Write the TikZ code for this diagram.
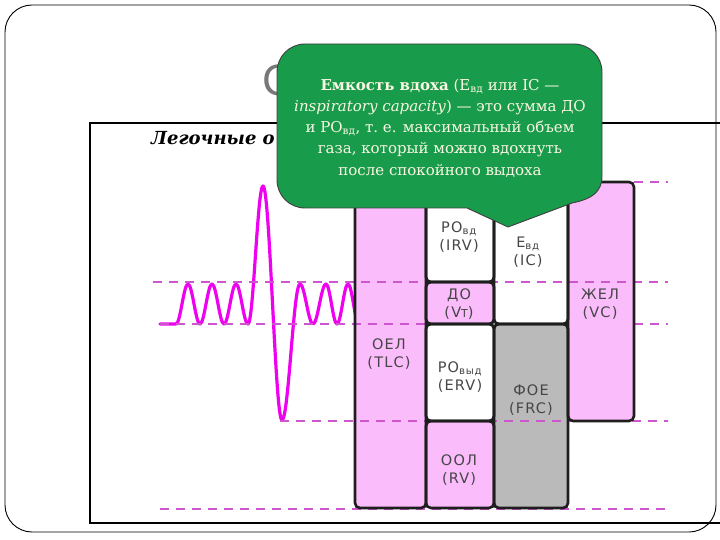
\documentclass[tikz,border=0pt]{standalone}
\usepackage{fontspec}
\setmainfont{DejaVu Serif}
\newfontfamily\lblfont[LetterSpace=8]{DejaVu Sans}
\newfontfamily\callfont{DejaVu Serif}
\newfontfamily\headfont{DejaVu Serif}
\newfontfamily\titlefont{Liberation Sans}
\definecolor{calloutgreen}{RGB}{24,155,74}
\definecolor{callouttext}{RGB}{250,248,228}
\definecolor{pinkfill}{RGB}{250,188,250}
\definecolor{grayfill}{RGB}{186,186,186}
\definecolor{wave}{RGB}{240,0,240}
\definecolor{dashcol}{RGB}{205,85,205}
\definecolor{boxline}{RGB}{30,30,30}
\definecolor{labelgray}{RGB}{70,70,70}
\definecolor{titlegray}{RGB}{120,120,120}
\begin{document}
\begin{tikzpicture}[x=1pt,y=-1pt,
  boxfill/.style={rectangle, inner sep=0pt, outer sep=0pt, anchor=north west, draw=none},
  boxborder/.style={draw=boxline, line width=2.6pt, rounded corners=5pt},
  level/.style={draw=dashcol, line width=1.4pt, dash pattern=on 9pt off 7pt},
  lbl/.style={font=\lblfont\fontsize{14.5}{18}\selectfont, text=labelgray, align=center, inner sep=0pt},
  wavepath/.style={draw=wave, line width=3.2pt, line join=round, line cap=round}]
\useasboundingbox (0,0) rectangle (720,540);
\clip (0,0) rectangle (720,540);
\fill[white] (0,0) rectangle (720,540);

% slide frame and picture frame
\draw[line width=0.9pt, rounded corners=27pt] (5,5) rectangle (716,532);
\draw[line width=1.1pt] (90,123) rectangle (740,523);

% title letter and heading
\node[font=\titlefont\fontsize{44}{44}\selectfont, text=titlegray, anchor=west, inner sep=0pt] (title) at (262,80) {С};
\node[font=\headfont\bfseries\itshape\fontsize{18}{18}\selectfont, anchor=base west, inner sep=0pt] (heading) at (151,145) {Легочные о};

% spirogram
\draw[wavepath] (160,324) -- (176,324)
  cos (182,304) sin (188,284) cos (194,304) sin (200,324)
  cos (206,304) sin (212,284) cos (218,304) sin (224,324)
  cos (230,304) sin (236,284) cos (242,304) sin (248,324)
  cos (255.5,254.5) sin (263,186) cos (272.5,303) sin (282,420)
  cos (291,352) sin (300,284)
  cos (306.5,304) sin (313,324) cos (319.5,304) sin (326,284)
  cos (331.5,304) sin (337,324) cos (342.5,304) sin (348,284)
  cos (353.5,304) sin (359,324);

% box fills
\node[boxfill, fill=pinkfill, minimum width=71pt, minimum height=326pt] (tlc) at (355,182) {};
\node[boxfill, fill=white,    minimum width=68pt, minimum height=100pt] (irv) at (426,182) {};
\node[boxfill, fill=pinkfill, minimum width=68pt, minimum height=42pt]  (vt)  at (426,282) {};
\node[boxfill, fill=white,    minimum width=68pt, minimum height=97pt]  (erv) at (426,324) {};
\node[boxfill, fill=pinkfill, minimum width=68pt, minimum height=87pt]  (rv)  at (426,421) {};
\node[boxfill, fill=white,    minimum width=74pt, minimum height=142pt] (ic)  at (494,182) {};
\node[boxfill, fill=grayfill, minimum width=74pt, minimum height=184pt] (frc) at (494,324) {};
\node[boxfill, fill=pinkfill, minimum width=66pt, minimum height=239pt] (vc)  at (568,182) {};

% level lines
\draw[level] (634,182) -- (668,182);
\draw[level] (153,282) -- (668,282);
\draw[level] (160,324) -- (568,324);
\draw[level] (634,324) -- (668,324);
\draw[level] (280,421) -- (668,421);
\draw[level] (160,509) -- (668,509);

% box borders
\foreach \b in {tlc,irv,vt,erv,rv,ic,frc,vc}
  \draw[boxborder] (\b.north west) rectangle (\b.south east);

% labels
\node[lbl] (lirv) at (459,237) {РО\textsubscript{вд}\\(IRV)};
\node[lbl] (lic)  at (528,252) {Е\textsubscript{вд}\\(IC)};
\node[lbl] (lvt)  at (459,304) {ДО\\(V{\fontsize{11}{11}\selectfont T})};
\node[lbl] (lvc)  at (600,304) {ЖЕЛ\\(VC)};
\node[lbl] (ltlc) at (389,354) {ОЕЛ\\(TLC)};
\node[lbl] (lerv) at (460,377) {РО\textsubscript{выд}\\(ERV)};
\node[lbl] (lfrc) at (531,400) {ФОЕ\\(FRC)};
\node[lbl] (lrv)  at (459,470) {ООЛ\\(RV)};

% callout
\draw[fill=calloutgreen, draw=black!75, line width=0.9pt]
  (305,44) -- (574,44)
  .. controls (589.5,44) and (602,56.5) .. (602,72)
  -- (602,176)
  .. controls (602,192) and (592,199) .. (572,203)
  -- (508,227) -- (467,208) -- (305,208)
  .. controls (289.5,208) and (277,195.5) .. (277,180)
  -- (277,72)
  .. controls (277,56.5) and (289.5,44) .. (305,44) -- cycle;
\node[font=\callfont\fontsize{15}{21.3}\selectfont, text=callouttext, align=center, inner sep=0pt] (calltext) at (440,128)
  {\textbf{Емкость вдоха} (Е\textsubscript{вд} или IC —\\
   \textit{inspiratory capacity}) — это сумма ДО\\
   и РО\textsubscript{вд}, т.~е. максимальный объем\\
   газа, который можно вдохнуть\\
   после спокойного выдоха};
\end{tikzpicture}
\end{document}
